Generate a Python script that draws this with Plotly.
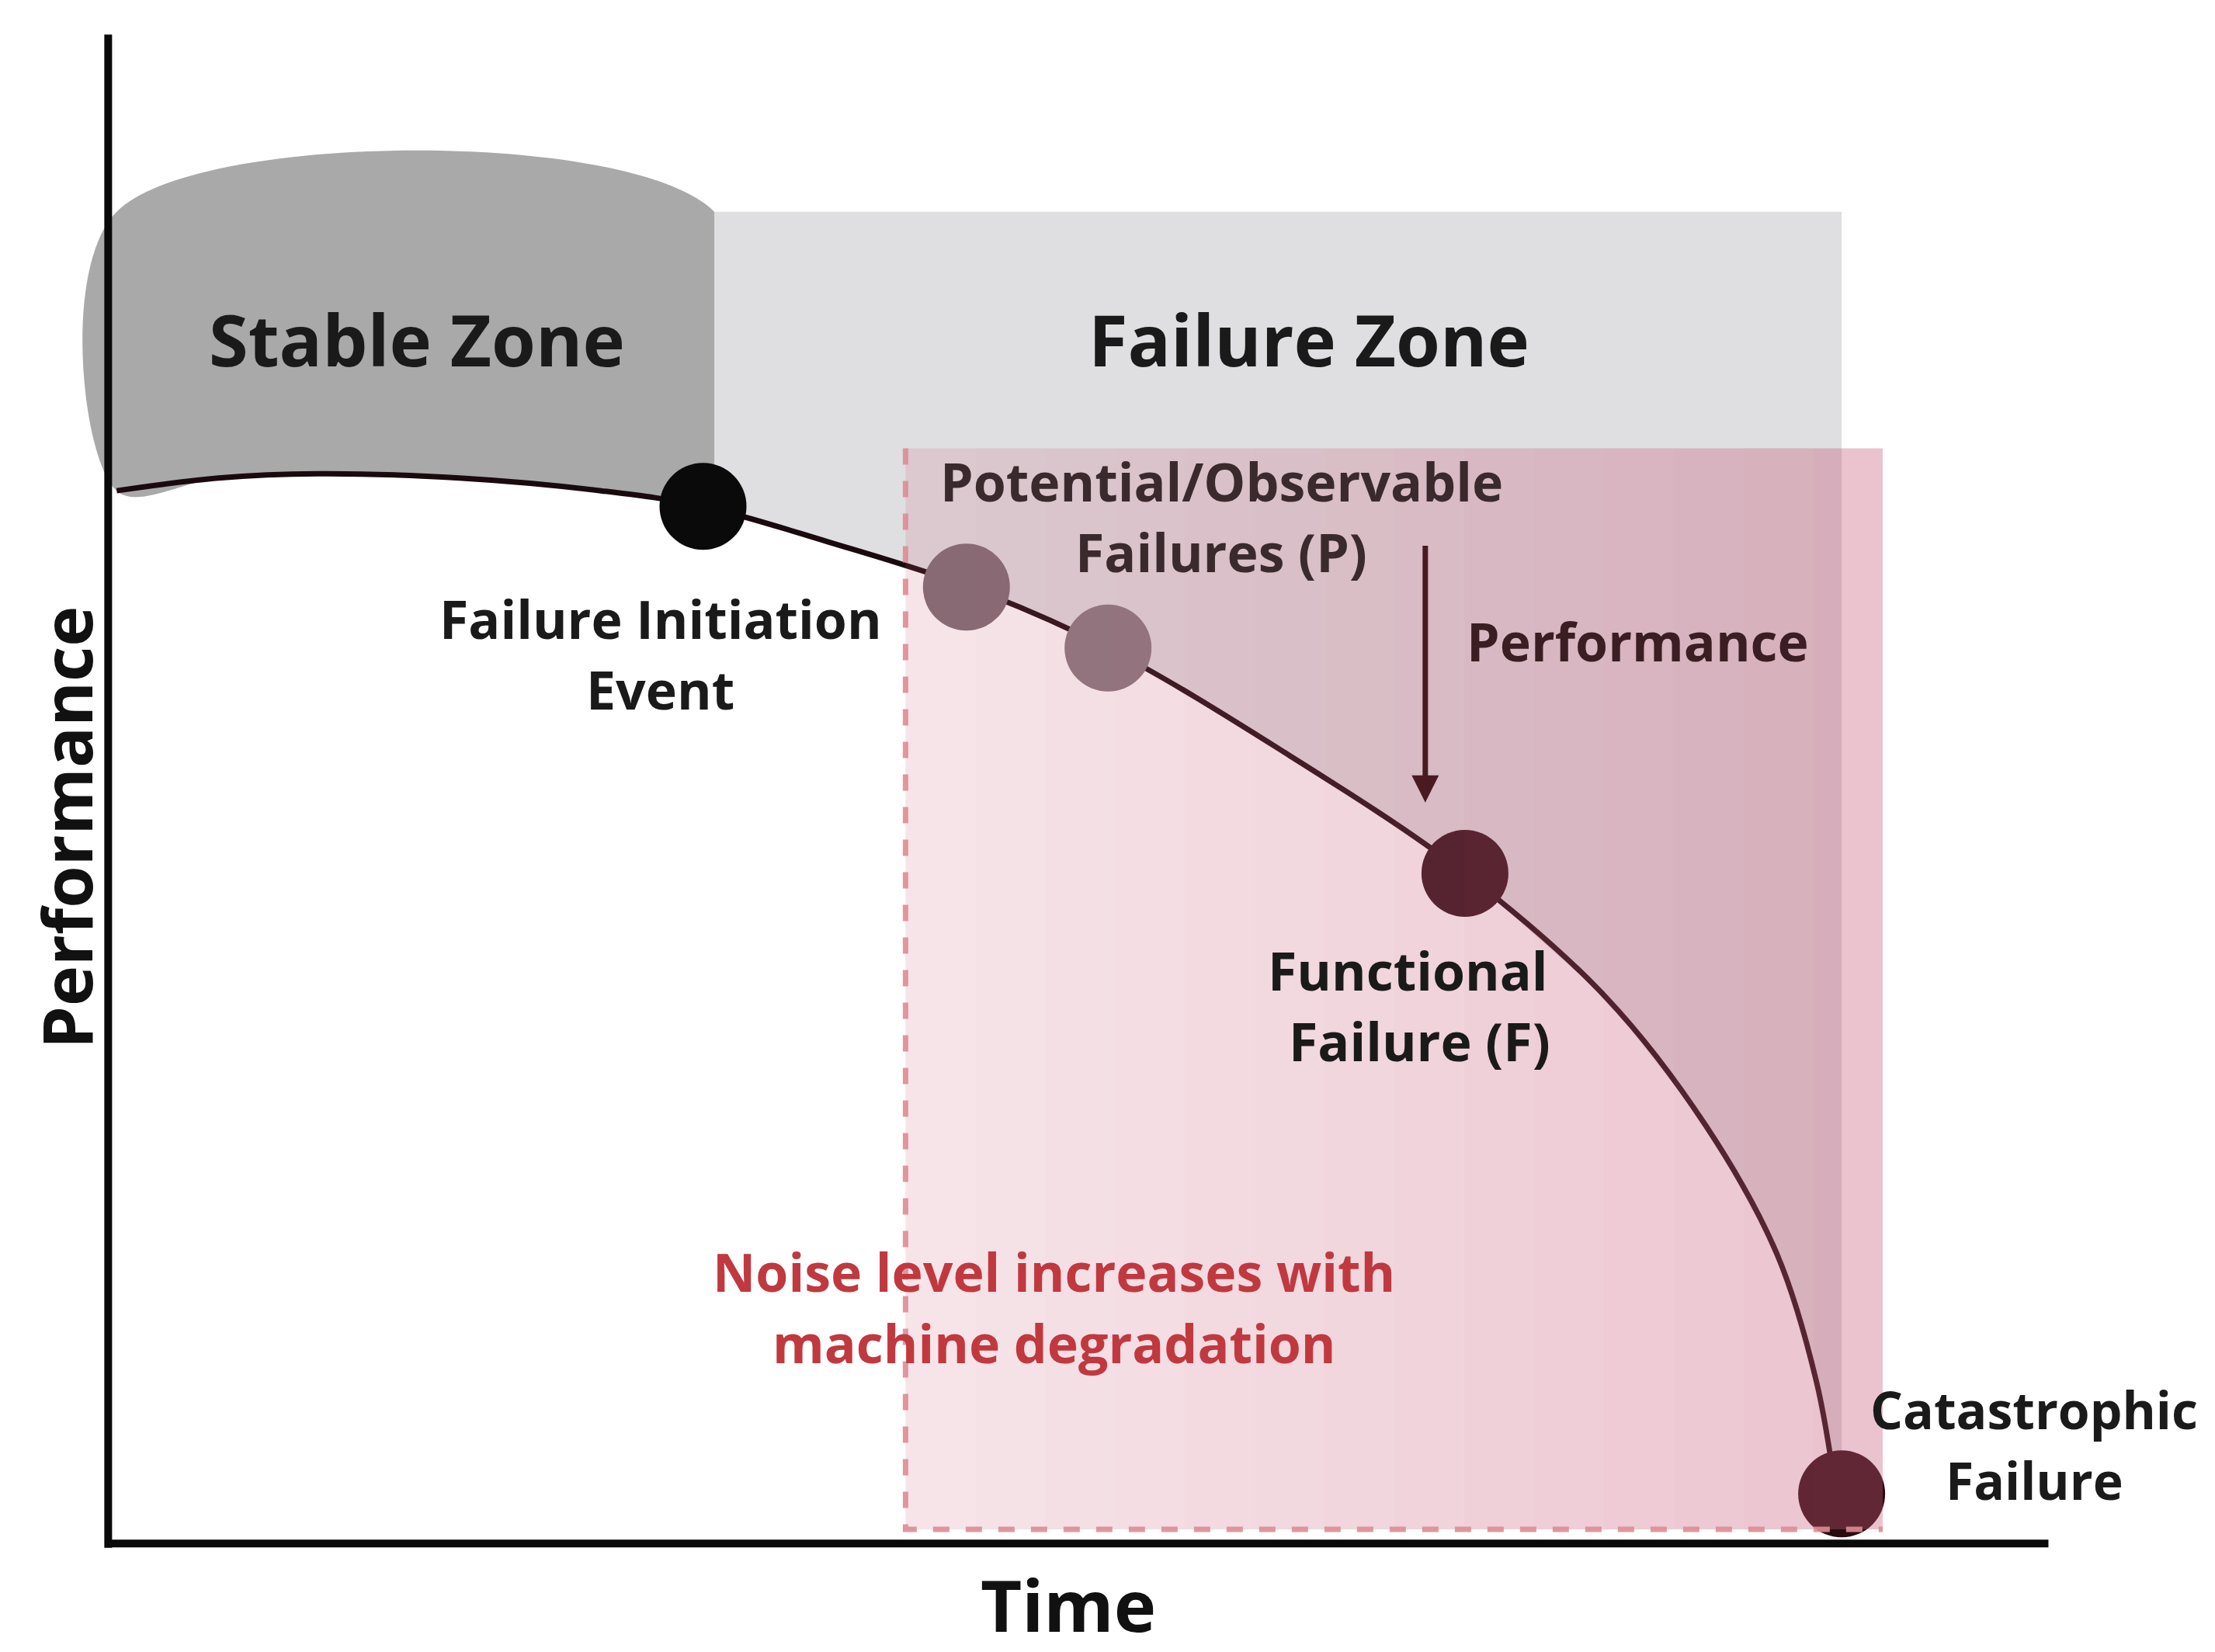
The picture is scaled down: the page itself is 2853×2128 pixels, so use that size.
import plotly.graph_objects as go

# canvas coordinates (reference image units, y downwards)
curve_x = [78, 150, 220, 320, 420, 492, 580, 680, 778, 900, 1030, 1130, 1200, 1250, 1278, 1292]
curve_y = [342, 333, 330, 333, 342, 353, 378, 410, 453, 525, 612, 700, 790, 880, 970, 1050]

event_x = [492, 678, 778, 1030, 1296]
event_y = [353, 410, 453, 612, 1050]
event_colors = ["#0a0a0a", "#7c6e74", "#857b80", "#2e1116", "#2a0c10"]

labels = [
    ("Stable Zone", 290, 235, 92, "#1a1a1a"),
    ("Failure Zone", 920, 235, 92, "#1a1a1a"),
    ("Potential/Observable", 858, 335, 68, "#3a2a2e"),
    ("Failures (P)", 858, 385, 68, "#3a2a2e"),
    ("Performance", 1152, 448, 68, "#3a1e24"),
    ("Failure Initiation", 462, 432, 68, "#1a1a1a"),
    ("Event", 462, 482, 68, "#1a1a1a"),
    ("Functional", 990, 680, 68, "#1a1a1a"),
    ("Failure (F)", 998, 730, 68, "#1a1a1a"),
    ("Noise level increases with", 740, 893, 68, "#c0393f"),
    ("machine degradation", 740, 943, 68, "#c0393f"),
    ("Catastrophic", 1432, 990, 66, "#1a1a1a"),
    ("Failure", 1432, 1040, 66, "#1a1a1a"),
]


def curve_between(x0, x1):
    pts = [(x, y) for x, y in zip(curve_x, curve_y) if x0 <= x <= x1]
    return pts


fig = go.Figure()

# stable zone (dark gray, above curve)
pts = curve_between(78, 492)
fig.add_trace(go.Scatter(
    x=[78] + [p[0] for p in pts] + [500, 500, 78],
    y=[145] + [p[1] for p in pts] + [355, 145, 145],
    fill="toself", fillcolor="#a9a9aa", line=dict(width=0), mode="lines",
    line_shape="spline", hoverinfo="skip"))

# failure zone (light gray, above curve)
pts = curve_between(500, 1292)
fig.add_trace(go.Scatter(
    x=[500, 500] + [p[0] for p in pts] + [1296, 1296, 500],
    y=[145, 355] + [p[1] for p in pts] + [1075, 145, 145],
    fill="toself", fillcolor="#dfdfe1", line=dict(width=0), mode="lines",
    hoverinfo="skip"))

shapes = []
# pink noise box with gradient to the right
n = 14
for i in range(n):
    xa = 635 + (1325 - 635) * i / n
    xb = 635 + (1325 - 635) * (i + 1) / n
    op = 0.16 + 0.20 * i / (n - 1)
    shapes.append(dict(type="rect", x0=xa, x1=xb, y0=312, y1=1075, xref="x", yref="y",
                       fillcolor=f"rgba(200,90,120,{op:.3f})", line=dict(width=0), layer="above"))
shapes.append(dict(type="path", path="M 635 312 L 635 1075 L 1325 1075", xref="x", yref="y",
                   line=dict(color="rgba(220,140,150,0.9)", width=7, dash="dash")))
# axes
shapes.append(dict(type="line", x0=72, x1=72, y0=20, y1=1088, xref="x", yref="y",
                   line=dict(color="#0a0a0a", width=10)))
shapes.append(dict(type="line", x0=70, x1=1442, y0=1085, y1=1085, xref="x", yref="y",
                   line=dict(color="#0a0a0a", width=10)))

fig.add_trace(go.Scatter(x=curve_x, y=curve_y, mode="lines", line_shape="spline",
                         line=dict(color="#1a0a0e", width=7), hoverinfo="skip"))
fig.add_trace(go.Scatter(x=event_x, y=event_y, mode="markers",
                         marker=dict(size=112, color=event_colors), hoverinfo="skip"))

ann = [dict(x=x, y=y, text=f"<b>{t}</b>", showarrow=False, xref="x", yref="y",
            font=dict(family="Open Sans", size=s, color=c)) for t, x, y, s, c in labels]
ann.append(dict(x=1002, y=562, ax=1002, ay=380, xref="x", yref="y", axref="x", ayref="y",
                showarrow=True, arrowhead=2, arrowsize=1, arrowwidth=7, arrowcolor="#4a1a22", text=""))
ann.append(dict(x=42, y=580, text="<b>Performance</b>", textangle=-90, showarrow=False,
                xref="x", yref="y", font=dict(family="Open Sans", size=88, color="#111")))
ann.append(dict(x=750, y=1128, text="<b>Time</b>", showarrow=False,
                xref="x", yref="y", font=dict(family="Open Sans", size=92, color="#111")))

fig.update_layout(
    width=2853, height=2128, margin=dict(l=0, r=0, t=0, b=0),
    paper_bgcolor="white", plot_bgcolor="white", showlegend=False,
    xaxis=dict(range=[0, 1564], visible=False, fixedrange=True),
    yaxis=dict(range=[1166, 0], visible=False, fixedrange=True),
    shapes=shapes, annotations=ann)

fig.write_html("out.html")
